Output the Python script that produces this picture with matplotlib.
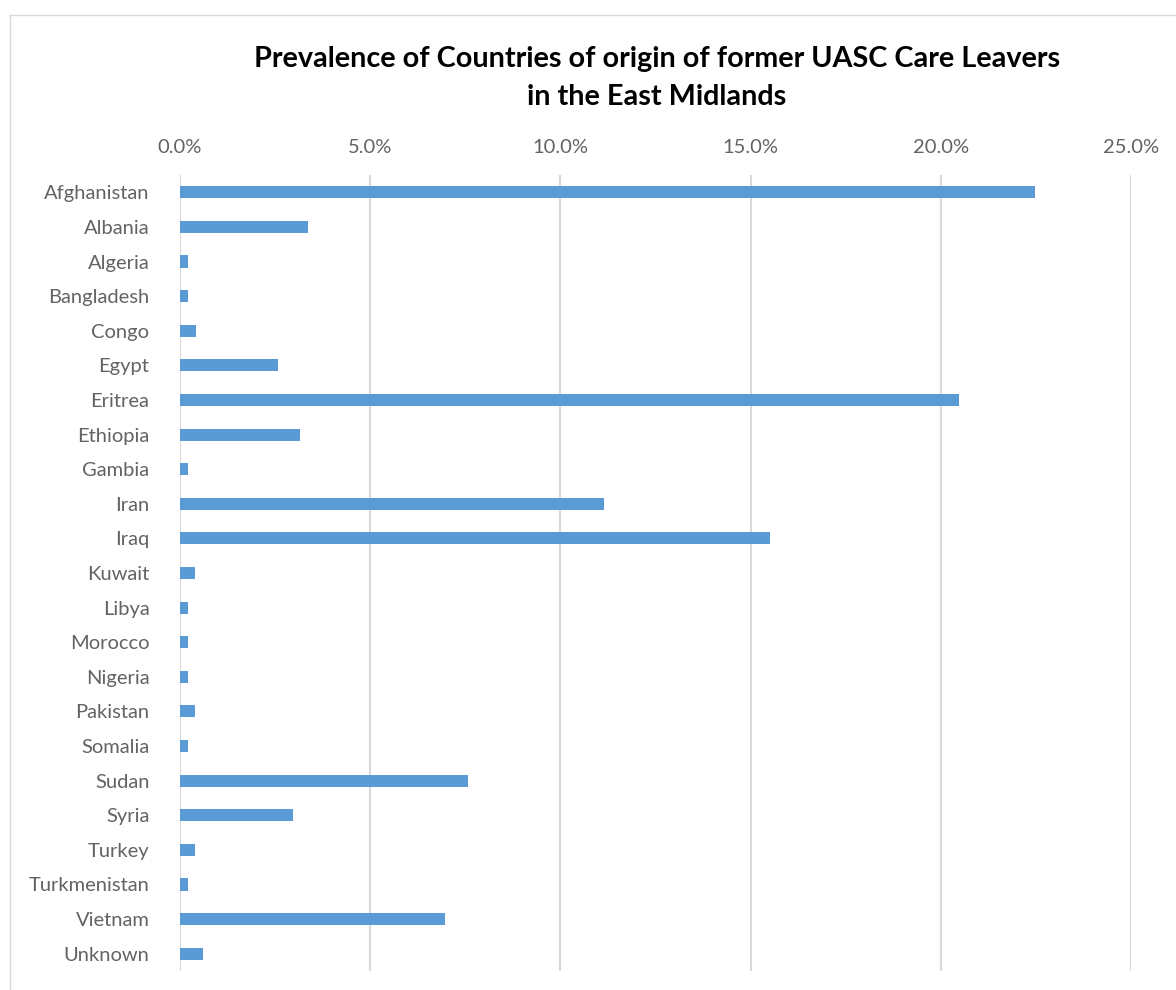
import matplotlib.pyplot as plt
from matplotlib.lines import Line2D
from matplotlib.ticker import FuncFormatter

countries = ["Afghanistan", "Albania", "Algeria", "Bangladesh", "Congo", "Egypt",
             "Eritrea", "Ethiopia", "Gambia", "Iran", "Iraq", "Kuwait", "Libya",
             "Morocco", "Nigeria", "Pakistan", "Somalia", "Sudan", "Syria",
             "Turkey", "Turkmenistan", "Vietnam", "Unknown"]
share = [22.47, 3.37, 0.20, 0.20, 0.42, 2.57, 20.47, 3.16, 0.20, 11.14, 15.51,
         0.40, 0.20, 0.20, 0.20, 0.40, 0.20, 7.56, 2.98, 0.40, 0.20, 6.97, 0.60]
ticks = [0, 5, 10, 15, 20, 25]

plt.rcParams['font.family'] = ['Lato', 'DejaVu Sans']

fig = plt.figure(figsize=(11.76, 9.9), dpi=100)
# chart area border: only top and left edges are visible in the crop
bx, by = 9.5 / 1176, 1 - 14.5 / 990
fig.lines.append(Line2D([bx, 1], [by, by], transform=fig.transFigure,
                        color="#d9d9d9", linewidth=1))
fig.lines.append(Line2D([bx, bx], [0, by], transform=fig.transFigure,
                        color="#d9d9d9", linewidth=1))

ax = fig.add_axes([180 / 1176, 19 / 990, 951 / 1176, 796 / 990])
y = range(len(countries))
ax.barh(y, share, height=0.35, color="#5b9bd5", zorder=3)

ax.set_xlim(0, 25)
ax.set_ylim(len(countries) - 0.5, -0.5)
ax.set_xticks(ticks)
ax.xaxis.set_major_formatter(FuncFormatter(lambda v, p: f"{v:.1f}%"))
ax.xaxis.tick_top()
ax.set_yticks(list(y))
ax.set_yticklabels(countries)
ax.tick_params(axis="both", length=0, colors="#636363", labelsize=14.5)
ax.tick_params(axis="x", pad=14)
ax.tick_params(axis="y", pad=22)
for s in ax.spines.values():
    s.set_visible(False)
ax.grid(axis="x", color="#d9d9d9", linewidth=1.5, zorder=0)

fig.text(657 / 1176, 1 - 78 / 990,
         "Prevalence of Countries of origin of former UASC Care Leavers\nin the East Midlands",
         ha="center", va="center", fontsize=20.7, fontweight="bold",
         color="black", linespacing=1.55)

fig.savefig("out.png", dpi=100)
